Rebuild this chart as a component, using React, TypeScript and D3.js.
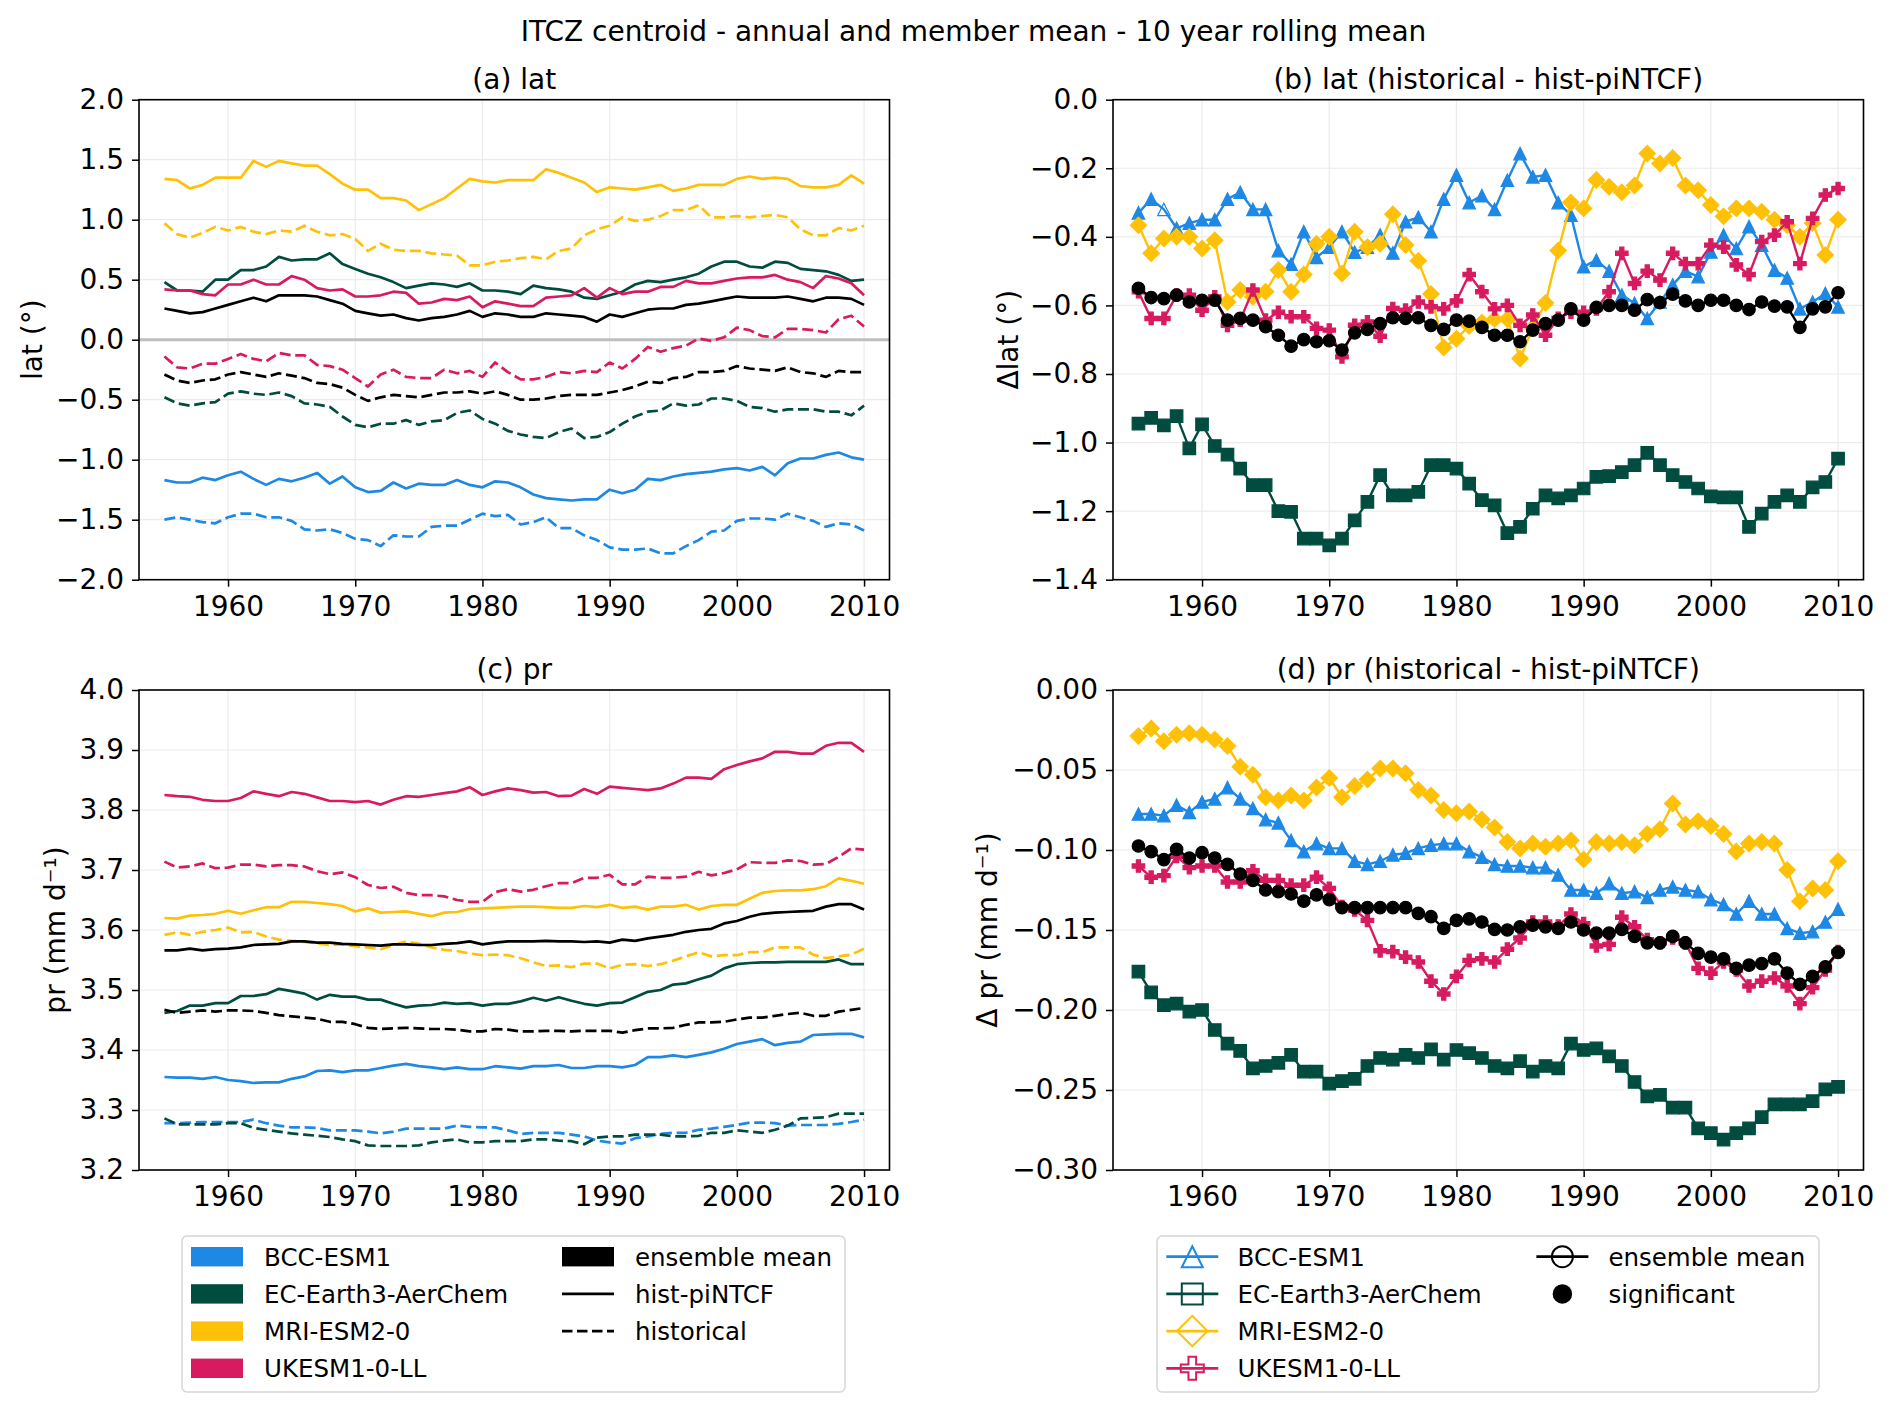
import React, { useEffect, useRef } from 'react';
import * as d3 from 'd3';

// x categories
const years = d3.range(1955, 2011);
const xTicks = [1960, 1970, 1980, 1990, 2000, 2010];

const models = ['BCC-ESM1', 'EC-Earth3-AerChem', 'MRI-ESM2-0', 'UKESM1-0-LL'];
const modelColors = ['#1E88E5', '#004D40', '#FFC107', '#D81B60'];
const modelMarkers = ['triangle', 'square', 'diamond', 'plus'];

const latTicks = [-2.0, -1.5, -1.0, -0.5, 0.0, 0.5, 1.0, 1.5, 2.0];
const dLatTicks = [-1.4, -1.2, -1.0, -0.8, -0.6, -0.4, -0.2, 0.0];
const prTicks = [3.2, 3.3, 3.4, 3.5, 3.6, 3.7, 3.8, 3.9, 4.0];
const dPrTicks = [-0.3, -0.25, -0.2, -0.15, -0.1, -0.05, 0.0];

// (a) lat: hist-piNTCF (solid) and historical (dashed)
const latPiBCC = [
  -1.17, -1.19, -1.19, -1.15, -1.17, -1.13, -1.10, -1.16, -1.21, -1.16,
  -1.18, -1.15, -1.11, -1.20, -1.14, -1.23, -1.27, -1.26, -1.19, -1.24,
  -1.20, -1.21, -1.21, -1.17, -1.21, -1.23, -1.18, -1.19, -1.23, -1.29,
  -1.32, -1.33, -1.34, -1.33, -1.33, -1.25, -1.28, -1.25, -1.16, -1.17,
  -1.14, -1.12, -1.11, -1.10, -1.08, -1.07, -1.09, -1.06, -1.13, -1.03,
  -0.99, -0.99, -0.96, -0.94, -0.98, -1.00];
const latHistBCC = [
  -1.50, -1.48, -1.50, -1.52, -1.53, -1.48, -1.45, -1.45, -1.48, -1.48,
  -1.51, -1.58, -1.59, -1.58, -1.61, -1.66, -1.67, -1.72, -1.63, -1.64,
  -1.64, -1.56, -1.55, -1.55, -1.50, -1.45, -1.47, -1.46, -1.54, -1.52,
  -1.48, -1.57, -1.57, -1.63, -1.67, -1.73, -1.75, -1.75, -1.74, -1.78,
  -1.78, -1.72, -1.67, -1.60, -1.59, -1.51, -1.49, -1.49, -1.50, -1.45,
  -1.48, -1.51, -1.56, -1.53, -1.54, -1.59];
const latPiEC = [
  0.48, 0.41, 0.41, 0.40, 0.50, 0.50, 0.58, 0.58, 0.61, 0.69,
  0.66, 0.67, 0.67, 0.72, 0.63, 0.59, 0.55, 0.52, 0.48, 0.43,
  0.45, 0.47, 0.46, 0.44, 0.47, 0.41, 0.41, 0.40, 0.38, 0.45,
  0.43, 0.42, 0.40, 0.35, 0.34, 0.37, 0.40, 0.46, 0.49, 0.48,
  0.50, 0.52, 0.55, 0.61, 0.65, 0.65, 0.61, 0.60, 0.65, 0.64,
  0.59, 0.58, 0.57, 0.54, 0.49, 0.50];
const latHistEC = [
  -0.48, -0.53, -0.55, -0.53, -0.52, -0.45, -0.43, -0.45, -0.46, -0.44,
  -0.47, -0.53, -0.54, -0.56, -0.64, -0.71, -0.73, -0.70, -0.70, -0.67,
  -0.71, -0.68, -0.67, -0.61, -0.59, -0.66, -0.70, -0.76, -0.79, -0.81,
  -0.82, -0.77, -0.74, -0.82, -0.81, -0.77, -0.70, -0.64, -0.60, -0.59,
  -0.53, -0.55, -0.54, -0.49, -0.49, -0.51, -0.56, -0.57, -0.60, -0.58,
  -0.58, -0.58, -0.60, -0.60, -0.63, -0.55];
const latPiMRI = [
  1.34, 1.33, 1.26, 1.29, 1.35, 1.35, 1.35, 1.49, 1.44, 1.49,
  1.47, 1.45, 1.45, 1.38, 1.30, 1.25, 1.25, 1.18, 1.18, 1.16,
  1.08, 1.13, 1.18, 1.26, 1.34, 1.32, 1.31, 1.33, 1.33, 1.33,
  1.42, 1.39, 1.35, 1.31, 1.23, 1.27, 1.26, 1.25, 1.27, 1.29,
  1.24, 1.26, 1.29, 1.29, 1.29, 1.34, 1.36, 1.34, 1.35, 1.34,
  1.28, 1.27, 1.27, 1.29, 1.37, 1.30];
const latHistMRI = [
  0.97, 0.88, 0.85, 0.89, 0.94, 0.91, 0.94, 0.90, 0.88, 0.91,
  0.90, 0.95, 0.90, 0.87, 0.88, 0.84, 0.74, 0.80, 0.75, 0.74,
  0.74, 0.72, 0.71, 0.70, 0.62, 0.62, 0.65, 0.66, 0.68, 0.69,
  0.67, 0.74, 0.76, 0.87, 0.92, 0.95, 1.02, 0.99, 1.00, 1.03,
  1.08, 1.08, 1.12, 1.02, 1.02, 1.03, 1.02, 1.03, 1.04, 1.02,
  0.92, 0.87, 0.87, 0.93, 0.91, 0.95];
const latPiUK = [
  0.42, 0.41, 0.41, 0.38, 0.37, 0.46, 0.46, 0.50, 0.46, 0.46,
  0.53, 0.50, 0.43, 0.41, 0.42, 0.36, 0.36, 0.37, 0.40, 0.39,
  0.30, 0.31, 0.34, 0.33, 0.36, 0.27, 0.32, 0.30, 0.28, 0.28,
  0.35, 0.36, 0.37, 0.43, 0.35, 0.43, 0.38, 0.40, 0.40, 0.44,
  0.44, 0.49, 0.47, 0.47, 0.49, 0.51, 0.52, 0.52, 0.54, 0.50,
  0.48, 0.43, 0.53, 0.51, 0.47, 0.37];
const latHistUK = [
  -0.14, -0.23, -0.24, -0.20, -0.20, -0.16, -0.12, -0.16, -0.18, -0.11,
  -0.13, -0.13, -0.21, -0.22, -0.25, -0.32, -0.39, -0.29, -0.25, -0.31,
  -0.32, -0.32, -0.25, -0.28, -0.26, -0.31, -0.19, -0.27, -0.33, -0.33,
  -0.31, -0.27, -0.28, -0.26, -0.27, -0.19, -0.24, -0.16, -0.06, -0.10,
  -0.07, -0.05, 0.01, -0.01, 0.02, 0.10, 0.08, 0.03, 0.02, 0.09,
  0.09, 0.08, 0.06, 0.17, 0.20, 0.11];
const latPiEns = [
  0.26, 0.24, 0.22, 0.23, 0.26, 0.29, 0.32, 0.35, 0.32, 0.37,
  0.37, 0.37, 0.36, 0.33, 0.30, 0.24, 0.22, 0.20, 0.21, 0.18,
  0.16, 0.18, 0.19, 0.21, 0.24, 0.19, 0.22, 0.21, 0.19, 0.19,
  0.22, 0.21, 0.20, 0.19, 0.15, 0.21, 0.19, 0.22, 0.25, 0.26,
  0.26, 0.29, 0.30, 0.32, 0.34, 0.36, 0.35, 0.35, 0.35, 0.36,
  0.34, 0.32, 0.35, 0.35, 0.34, 0.29];
const latHistEns = [
  -0.29, -0.34, -0.36, -0.34, -0.33, -0.29, -0.27, -0.29, -0.31, -0.28,
  -0.30, -0.32, -0.36, -0.37, -0.40, -0.46, -0.51, -0.48, -0.46, -0.47,
  -0.48, -0.46, -0.44, -0.44, -0.43, -0.45, -0.43, -0.46, -0.50, -0.50,
  -0.49, -0.47, -0.46, -0.46, -0.46, -0.44, -0.42, -0.39, -0.35, -0.36,
  -0.32, -0.31, -0.27, -0.27, -0.26, -0.22, -0.24, -0.25, -0.26, -0.23,
  -0.27, -0.28, -0.31, -0.26, -0.27, -0.27];

// (b) lat difference (historical - hist-piNTCF)
const dLatBCC = [
  -0.33, -0.29, -0.32, -0.375, -0.36, -0.35, -0.35, -0.29, -0.27, -0.32,
  -0.32, -0.44, -0.48, -0.385, -0.46, -0.43, -0.385, -0.445, -0.43, -0.395,
  -0.447, -0.356, -0.343, -0.385, -0.29, -0.22, -0.30, -0.28, -0.32, -0.235,
  -0.157, -0.225, -0.22, -0.30, -0.337, -0.487, -0.468, -0.50, -0.57, -0.594,
  -0.638, -0.59, -0.54, -0.50, -0.516, -0.444, -0.395, -0.434, -0.37, -0.424,
  -0.497, -0.52, -0.61, -0.59, -0.565, -0.604];
const dLatEC = [
  -0.945, -0.928, -0.95, -0.923, -1.017, -0.947, -1.01, -1.035, -1.076, -1.124,
  -1.124, -1.20, -1.202, -1.28, -1.28, -1.30, -1.28, -1.227, -1.173, -1.095,
  -1.154, -1.154, -1.144, -1.066, -1.066, -1.076, -1.12, -1.168, -1.183, -1.264,
  -1.246, -1.193, -1.154, -1.163, -1.154, -1.134, -1.10, -1.098, -1.086, -1.066,
  -1.03, -1.066, -1.095, -1.115, -1.134, -1.157, -1.16, -1.16, -1.246, -1.207,
  -1.173, -1.154, -1.173, -1.131, -1.115, -1.047];
const dLatMRI = [
  -0.366, -0.448, -0.405, -0.40, -0.40, -0.434, -0.41, -0.59, -0.555, -0.575,
  -0.56, -0.497, -0.56, -0.51, -0.42, -0.40, -0.507, -0.385, -0.43, -0.42,
  -0.334, -0.424, -0.47, -0.567, -0.723, -0.697, -0.66, -0.65, -0.64, -0.64,
  -0.755, -0.665, -0.593, -0.44, -0.30, -0.317, -0.234, -0.254, -0.27, -0.25,
  -0.157, -0.186, -0.17, -0.25, -0.264, -0.307, -0.34, -0.317, -0.317, -0.327,
  -0.35, -0.366, -0.40, -0.36, -0.453, -0.35];
const dLatUK = [
  -0.56, -0.638, -0.638, -0.57, -0.57, -0.614, -0.575, -0.658, -0.643, -0.555,
  -0.643, -0.62, -0.633, -0.633, -0.667, -0.672, -0.75, -0.658, -0.648, -0.69,
  -0.609, -0.614, -0.59, -0.604, -0.61, -0.587, -0.51, -0.56, -0.61, -0.60,
  -0.658, -0.628, -0.687, -0.638, -0.62, -0.62, -0.61, -0.56, -0.448, -0.536,
  -0.50, -0.526, -0.448, -0.478, -0.478, -0.424, -0.43, -0.482, -0.51, -0.414,
  -0.395, -0.356, -0.478, -0.346, -0.278, -0.259];
const dLatEns = [
  -0.55, -0.577, -0.58, -0.57, -0.59, -0.585, -0.585, -0.643, -0.638, -0.643,
  -0.662, -0.687, -0.719, -0.70, -0.706, -0.703, -0.73, -0.68, -0.67, -0.653,
  -0.636, -0.638, -0.636, -0.658, -0.67, -0.643, -0.646, -0.664, -0.687, -0.687,
  -0.706, -0.672, -0.653, -0.643, -0.61, -0.643, -0.606, -0.60, -0.60, -0.614,
  -0.583, -0.592, -0.567, -0.587, -0.60, -0.585, -0.585, -0.60, -0.612, -0.59,
  -0.602, -0.604, -0.664, -0.61, -0.604, -0.563];
// points drawn hollow (not significant): [model index, year]
const dLatNotSignificant = [[0, 1957]];

// (c) pr: hist-piNTCF (solid) and historical (dashed)
const prPiBCC = [
  3.355, 3.354, 3.354, 3.352, 3.355, 3.35, 3.348, 3.345, 3.346, 3.346,
  3.352, 3.356, 3.365, 3.366, 3.363, 3.366, 3.366, 3.37, 3.374, 3.377,
  3.373, 3.371, 3.368, 3.371, 3.368, 3.368, 3.373, 3.371, 3.369, 3.373,
  3.373, 3.375, 3.37, 3.37, 3.373, 3.373, 3.371, 3.375, 3.388, 3.388,
  3.391, 3.388, 3.392, 3.396, 3.402, 3.41, 3.414, 3.418, 3.408, 3.412,
  3.414, 3.425, 3.426, 3.427, 3.427, 3.421];
const prHistBCC = [
  3.278, 3.278, 3.279, 3.28, 3.28, 3.28, 3.28, 3.284, 3.278, 3.274,
  3.271, 3.271, 3.27, 3.266, 3.266, 3.266, 3.264, 3.261, 3.264, 3.269,
  3.269, 3.269, 3.269, 3.274, 3.272, 3.271, 3.271, 3.266, 3.26, 3.262,
  3.262, 3.262, 3.259, 3.256, 3.249, 3.246, 3.244, 3.253, 3.256, 3.26,
  3.262, 3.262, 3.267, 3.269, 3.272, 3.275, 3.279, 3.279, 3.278, 3.274,
  3.275, 3.275, 3.275, 3.277, 3.28, 3.284];
const prPiEC = [
  3.462, 3.465, 3.474, 3.474, 3.478, 3.478, 3.49, 3.49, 3.493, 3.502,
  3.498, 3.494, 3.484, 3.492, 3.489, 3.489, 3.484, 3.484, 3.477, 3.471,
  3.474, 3.475, 3.479, 3.477, 3.478, 3.474, 3.477, 3.477, 3.481, 3.487,
  3.482, 3.488, 3.482, 3.477, 3.474, 3.478, 3.479, 3.488, 3.497, 3.50,
  3.509, 3.511, 3.518, 3.524, 3.536, 3.543, 3.545, 3.546, 3.546, 3.547,
  3.547, 3.547, 3.547, 3.551, 3.543, 3.543];
const prHistEC = [
  3.286, 3.276, 3.276, 3.276, 3.276, 3.278, 3.278, 3.27, 3.267, 3.264,
  3.261, 3.259, 3.257, 3.255, 3.251, 3.248, 3.241, 3.24, 3.24, 3.24,
  3.241, 3.246, 3.249, 3.251, 3.246, 3.246, 3.248, 3.248, 3.248, 3.251,
  3.251, 3.249, 3.248, 3.243, 3.254, 3.256, 3.256, 3.259, 3.259, 3.259,
  3.256, 3.256, 3.257, 3.262, 3.262, 3.266, 3.264, 3.262, 3.267, 3.274,
  3.286, 3.287, 3.288, 3.294, 3.294, 3.294];
const prPiMRI = [
  3.62, 3.619, 3.624, 3.625, 3.627, 3.632, 3.627, 3.633, 3.638, 3.638,
  3.647, 3.647, 3.645, 3.643, 3.64, 3.631, 3.636, 3.629, 3.63, 3.631,
  3.627, 3.623, 3.629, 3.63, 3.635, 3.636, 3.637, 3.638, 3.639, 3.639,
  3.638, 3.637, 3.637, 3.64, 3.638, 3.642, 3.637, 3.639, 3.634, 3.639,
  3.639, 3.642, 3.634, 3.64, 3.642, 3.642, 3.652, 3.662, 3.665, 3.666,
  3.666, 3.668, 3.673, 3.686, 3.682, 3.677];
const prHistMRI = [
  3.592, 3.596, 3.592, 3.597, 3.60, 3.604, 3.596, 3.597, 3.589, 3.584,
  3.582, 3.58, 3.578, 3.575, 3.576, 3.573, 3.571, 3.568, 3.575, 3.581,
  3.577, 3.571, 3.567, 3.565, 3.561, 3.558, 3.559, 3.558, 3.553, 3.546,
  3.54, 3.541, 3.538, 3.544, 3.544, 3.536, 3.542, 3.543, 3.54, 3.543,
  3.549, 3.556, 3.563, 3.556, 3.558, 3.558, 3.563, 3.563, 3.571, 3.571,
  3.571, 3.559, 3.553, 3.556, 3.559, 3.569];
const prPiUK = [
  3.825, 3.823, 3.822, 3.817, 3.815, 3.815, 3.82, 3.831, 3.827, 3.823,
  3.83, 3.827, 3.821, 3.815, 3.815, 3.813, 3.815, 3.809, 3.817, 3.823,
  3.822, 3.825, 3.828, 3.831, 3.838, 3.825, 3.831, 3.836, 3.833, 3.829,
  3.83, 3.823, 3.824, 3.835, 3.827, 3.839, 3.837, 3.835, 3.833, 3.836,
  3.844, 3.854, 3.854, 3.852, 3.868, 3.875, 3.881, 3.886, 3.897, 3.897,
  3.894, 3.894, 3.907, 3.912, 3.912, 3.897];
const prHistUK = [
  3.714, 3.704, 3.706, 3.711, 3.703, 3.704, 3.709, 3.709, 3.706, 3.708,
  3.708, 3.706, 3.698, 3.693, 3.696, 3.688, 3.675, 3.670, 3.672, 3.662,
  3.658, 3.658, 3.656, 3.65, 3.647, 3.647, 3.663, 3.668, 3.664, 3.667,
  3.673, 3.678, 3.678, 3.687, 3.687, 3.692, 3.676, 3.676, 3.689, 3.687,
  3.687, 3.689, 3.697, 3.691, 3.695, 3.701, 3.713, 3.712, 3.712, 3.716,
  3.715, 3.709, 3.71, 3.722, 3.736, 3.734];
const prPiEns = [
  3.566, 3.566, 3.569, 3.566, 3.568, 3.569, 3.571, 3.575, 3.576, 3.577,
  3.581, 3.581, 3.579, 3.579, 3.577, 3.576, 3.575, 3.574, 3.576, 3.576,
  3.575, 3.575, 3.577, 3.578, 3.581, 3.576, 3.579, 3.581, 3.581, 3.581,
  3.582, 3.581, 3.581, 3.58, 3.581, 3.579, 3.584, 3.582, 3.586, 3.589,
  3.592, 3.597, 3.60, 3.602, 3.611, 3.615, 3.622, 3.627, 3.629, 3.63,
  3.631, 3.632, 3.639, 3.643, 3.643, 3.634];
const prHistEns = [
  3.467, 3.462, 3.464, 3.466, 3.464, 3.466, 3.466, 3.465, 3.462, 3.458,
  3.456, 3.454, 3.452, 3.447, 3.447, 3.443, 3.437, 3.435, 3.436, 3.437,
  3.436, 3.435, 3.435, 3.434, 3.431, 3.431, 3.435, 3.434, 3.431, 3.431,
  3.432, 3.432, 3.431, 3.432, 3.432, 3.432, 3.429, 3.433, 3.436, 3.436,
  3.437, 3.442, 3.446, 3.446, 3.447, 3.451, 3.454, 3.454, 3.457, 3.46,
  3.462, 3.457, 3.457, 3.464, 3.467, 3.47];

// (d) pr difference (historical - hist-piNTCF)
const dPrBCC = [
  -0.0775, -0.0775, -0.0785, -0.072, -0.0765, -0.070, -0.068, -0.061, -0.068, -0.074,
  -0.081, -0.083, -0.094, -0.101, -0.096, -0.099, -0.099, -0.107, -0.109, -0.107,
  -0.103, -0.102, -0.099, -0.097, -0.096, -0.096, -0.101, -0.1045, -0.109, -0.11,
  -0.11, -0.111, -0.111, -0.1156, -0.125, -0.125, -0.127, -0.121, -0.127, -0.126,
  -0.1296, -0.125, -0.123, -0.125, -0.126, -0.131, -0.134, -0.14, -0.132, -0.14,
  -0.14, -0.149, -0.152, -0.151, -0.145, -0.137];
const dPrEC = [
  -0.176, -0.189, -0.197, -0.196, -0.201, -0.200, -0.2125, -0.221, -0.2256, -0.2365,
  -0.235, -0.233, -0.228, -0.2385, -0.2385, -0.246, -0.2444, -0.243, -0.235, -0.23,
  -0.231, -0.228, -0.23, -0.2246, -0.231, -0.225, -0.227, -0.230, -0.235, -0.2365,
  -0.232, -0.2385, -0.235, -0.2365, -0.221, -0.225, -0.224, -0.229, -0.235, -0.245,
  -0.254, -0.253, -0.261, -0.261, -0.274, -0.277, -0.281, -0.277, -0.274, -0.267,
  -0.259, -0.259, -0.259, -0.257, -0.2496, -0.248];
const dPrMRI = [
  -0.0288, -0.024, -0.032, -0.028, -0.027, -0.028, -0.031, -0.035, -0.048, -0.053,
  -0.067, -0.069, -0.066, -0.069, -0.061, -0.055, -0.067, -0.060, -0.056, -0.049,
  -0.049, -0.052, -0.0625, -0.066, -0.075, -0.077, -0.076, -0.081, -0.086, -0.095,
  -0.099, -0.096, -0.098, -0.096, -0.094, -0.106, -0.095, -0.096, -0.095, -0.097,
  -0.090, -0.087, -0.071, -0.084, -0.082, -0.085, -0.090, -0.101, -0.096, -0.095,
  -0.096, -0.1125, -0.132, -0.124, -0.125, -0.107];
const dPrUK = [
  -0.110, -0.117, -0.116, -0.104, -0.111, -0.110, -0.110, -0.12, -0.12, -0.113,
  -0.119, -0.119, -0.122, -0.122, -0.117, -0.124, -0.1354, -0.1375, -0.144, -0.163,
  -0.1635, -0.167, -0.17, -0.182, -0.19, -0.179, -0.169, -0.168, -0.17, -0.162,
  -0.155, -0.145, -0.145, -0.1475, -0.14, -0.146, -0.16, -0.159, -0.142, -0.148,
  -0.156, -0.158, -0.155, -0.158, -0.174, -0.177, -0.17, -0.175, -0.185, -0.182,
  -0.180, -0.185, -0.196, -0.186, -0.175, -0.1635];
const dPrEns = [
  -0.0975, -0.101, -0.106, -0.0996, -0.105, -0.1017, -0.105, -0.109, -0.115, -0.119,
  -0.125, -0.126, -0.1275, -0.132, -0.128, -0.131, -0.136, -0.136, -0.136, -0.136,
  -0.136, -0.136, -0.1396, -0.1417, -0.149, -0.144, -0.143, -0.145, -0.1496, -0.150,
  -0.148, -0.147, -0.148, -0.149, -0.145, -0.150, -0.152, -0.152, -0.1496, -0.154,
  -0.158, -0.158, -0.154, -0.158, -0.1646, -0.167, -0.168, -0.174, -0.172, -0.171,
  -0.168, -0.177, -0.184, -0.179, -0.173, -0.164];

const W = 1892;
const H = 1412;
const FONT = 'DejaVu Sans';
const PW = 750.5;
const PH = 480;

function markerPath(shape: string, s: number): string {
  const h = s / 2;
  if (shape === 'triangle') return `M0,${-h}L${h},${h}L${-h},${h}Z`;
  if (shape === 'square') return `M${-h},${-h}H${h}V${h}H${-h}Z`;
  if (shape === 'diamond') {
    const d = h * Math.SQRT2;
    return `M0,${-d}L${d},0L0,${d}L${-d},0Z`;
  }
  if (shape === 'plus') {
    const a = s / 6;
    return `M${-a},${-h}H${a}V${-a}H${h}V${a}H${a}V${h}H${-a}V${a}H${-h}V${-a}H${-a}Z`;
  }
  return `M${h},0A${h},${h} 0 1,1 ${-h},0A${h},${h} 0 1,1 ${h},0Z`;
}

const App = () => {
  const svgRef = useRef(null);

  useEffect(() => {
    if (!svgRef.current) return;
    document.body.style.margin = '0';
    const svg = d3.select(svgRef.current);
    svg.selectAll('*').remove();

    svg.append('rect').attr('width', W).attr('height', H).attr('fill', '#fff');

    svg.append('text')
      .attr('x', 973.5).attr('y', 41)
      .attr('text-anchor', 'middle')
      .attr('font-family', FONT).attr('font-size', 28)
      .text('ITCZ centroid - annual and member mean - 10 year rolling mean');

    // sets up one panel: grid, titles; returns scales and a finish() that draws spines/axes on top
    const panel = (left, top, domain, ticks, fmt, title, ylabel, ylabelX) => {
      const x = d3.scaleLinear().domain([1953, 2012]).range([left, left + PW]);
      const y = d3.scaleLinear().domain(domain).range([top + PH, top]);
      const g = svg.append('g');

      g.append('g').selectAll('line').data(xTicks).join('line')
        .attr('x1', d => x(d)).attr('x2', d => x(d))
        .attr('y1', top).attr('y2', top + PH)
        .attr('stroke', '#ebebeb').attr('stroke-width', 1.2);
      g.append('g').selectAll('line').data(ticks).join('line')
        .attr('x1', left).attr('x2', left + PW)
        .attr('y1', d => y(d)).attr('y2', d => y(d))
        .attr('stroke', '#ebebeb').attr('stroke-width', 1.2);

      g.append('text')
        .attr('x', left + PW / 2).attr('y', top - 10.7)
        .attr('text-anchor', 'middle')
        .attr('font-family', FONT).attr('font-size', 28)
        .text(title);

      g.append('text')
        .attr('transform', `translate(${ylabelX},${top + PH / 2}) rotate(-90)`)
        .attr('text-anchor', 'middle')
        .attr('font-family', FONT).attr('font-size', 28)
        .text(ylabel);

      const finish = () => {
        g.append('rect')
          .attr('x', left).attr('y', top).attr('width', PW).attr('height', PH)
          .attr('fill', 'none').attr('stroke', '#000').attr('stroke-width', 1.6);

        const ax = g.append('g')
          .attr('transform', `translate(0,${top + PH})`)
          .call(d3.axisBottom(x).tickValues(xTicks).tickFormat(d3.format('d'))
            .tickSize(7).tickPadding(9.5));
        const ay = g.append('g')
          .attr('transform', `translate(${left},0)`)
          .call(d3.axisLeft(y).tickValues(ticks).tickFormat(d3.format(fmt))
            .tickSize(7).tickPadding(8));
        [ax, ay].forEach(a => {
          a.select('.domain').remove();
          a.attr('font-family', FONT).attr('font-size', 28);
          a.selectAll('text').attr('fill', '#000');
          a.selectAll('line').attr('stroke', '#000').attr('stroke-width', 1.5);
        });
      };
      return { g, x, y, finish };
    };

    // ---------- (a) and (c): solid / dashed lines ----------
    const drawLines = (p, series, lw) => {
      const line = d3.line<number>().x((_, i) => p.x(years[i])).y(d => p.y(d));
      series.forEach(([values, color, dashed]) => {
        p.g.append('path')
          .attr('d', line(values))
          .attr('fill', 'none')
          .attr('stroke', color)
          .attr('stroke-width', lw)
          .attr('stroke-linejoin', 'round')
          .attr('stroke-dasharray', dashed ? '11,4.7' : null);
      });
    };

    const pa = panel(139, 99.7, [-2, 2], latTicks, '.1f', '(a) lat', 'lat (°)', 41.5);
    pa.g.append('line')
      .attr('x1', 139).attr('x2', 139 + PW)
      .attr('y1', pa.y(0)).attr('y2', pa.y(0))
      .attr('stroke', '#bfbfbf').attr('stroke-width', 3);
    drawLines(pa, [
      [latPiBCC, modelColors[0], false], [latHistBCC, modelColors[0], true],
      [latPiEC, modelColors[1], false], [latHistEC, modelColors[1], true],
      [latPiMRI, modelColors[2], false], [latHistMRI, modelColors[2], true],
      [latPiUK, modelColors[3], false], [latHistUK, modelColors[3], true],
      [latPiEns, '#000', false], [latHistEns, '#000', true],
    ], 2.7);
    pa.finish();

    const pc = panel(139, 690, [3.2, 4.0], prTicks, '.1f', '(c) pr', 'pr (mm d⁻¹)', 65);
    drawLines(pc, [
      [prPiBCC, modelColors[0], false], [prHistBCC, modelColors[0], true],
      [prPiEC, modelColors[1], false], [prHistEC, modelColors[1], true],
      [prPiMRI, modelColors[2], false], [prHistMRI, modelColors[2], true],
      [prPiUK, modelColors[3], false], [prHistUK, modelColors[3], true],
      [prPiEns, '#000', false], [prHistEns, '#000', true],
    ], 2.7);
    pc.finish();

    // ---------- (b) and (d): lines with markers ----------
    const drawMarked = (p, series, notSig) => {
      const line = d3.line<number>().x((_, i) => p.x(years[i])).y(d => p.y(d));
      series.forEach(([values, color, shape, idx]) => {
        p.g.append('path')
          .attr('d', line(values))
          .attr('fill', 'none')
          .attr('stroke', color)
          .attr('stroke-width', 2.4)
          .attr('stroke-linejoin', 'round');
        const size = shape === 'diamond' ? 11.5 : shape === 'circle' ? 12.5 : 12.5;
        p.g.append('g').selectAll('path').data(values).join('path')
          .attr('transform', (d, i) => `translate(${p.x(years[i])},${p.y(d)})`)
          .attr('d', markerPath(shape, size))
          .attr('fill', (d, i) => notSig.some(([m, yr]) => m === idx && yr === years[i]) ? 'none' : color)
          .attr('stroke', color)
          .attr('stroke-width', 1.2);
      });
    };

    const pb = panel(1113, 99.7, [-1.4, 0], dLatTicks, '.1f',
      '(b) lat (historical - hist-piNTCF)', 'Δlat (°)', 1017.7);
    drawMarked(pb, [
      [dLatBCC, modelColors[0], modelMarkers[0], 0],
      [dLatEC, modelColors[1], modelMarkers[1], 1],
      [dLatMRI, modelColors[2], modelMarkers[2], 2],
      [dLatUK, modelColors[3], modelMarkers[3], 3],
      [dLatEns, '#000', 'circle', 4],
    ], dLatNotSignificant);
    pb.finish();

    const pd = panel(1113, 690, [-0.3, 0], dPrTicks, '.2f',
      '(d) pr (historical - hist-piNTCF)', 'Δ pr (mm d⁻¹)', 997);
    drawMarked(pd, [
      [dPrBCC, modelColors[0], modelMarkers[0], 0],
      [dPrEC, modelColors[1], modelMarkers[1], 1],
      [dPrMRI, modelColors[2], modelMarkers[2], 2],
      [dPrUK, modelColors[3], modelMarkers[3], 3],
      [dPrEns, '#000', 'circle', 4],
    ], []);
    pd.finish();

    // ---------- legends ----------
    const rowY = [1256.7, 1293.9, 1331.1, 1368.3];
    const legendBox = (x0, x1) => svg.append('rect')
      .attr('x', x0).attr('y', 1236).attr('width', x1 - x0).attr('height', 156)
      .attr('rx', 5).attr('fill', '#fff').attr('stroke', '#d6d6d6').attr('stroke-width', 1.5);
    const legendText = (x, yc, t) => svg.append('text')
      .attr('x', x).attr('y', yc + 8.8)
      .attr('font-family', FONT).attr('font-size', 24.5)
      .text(t);

    // left legend
    legendBox(182, 845);
    models.forEach((m, i) => {
      svg.append('rect').attr('x', 191).attr('y', rowY[i] - 9.7)
        .attr('width', 52).attr('height', 19.4).attr('fill', modelColors[i]);
      legendText(264, rowY[i], m);
    });
    svg.append('rect').attr('x', 562).attr('y', rowY[0] - 9.7)
      .attr('width', 52).attr('height', 19.4).attr('fill', '#000');
    legendText(635, rowY[0], 'ensemble mean');
    svg.append('line').attr('x1', 562).attr('x2', 614).attr('y1', rowY[1]).attr('y2', rowY[1])
      .attr('stroke', '#000').attr('stroke-width', 2.7);
    legendText(635, rowY[1], 'hist-piNTCF');
    svg.append('line').attr('x1', 562).attr('x2', 614).attr('y1', rowY[2]).attr('y2', rowY[2])
      .attr('stroke', '#000').attr('stroke-width', 2.7).attr('stroke-dasharray', '10.5,4.5');
    legendText(635, rowY[2], 'historical');

    // right legend
    legendBox(1157, 1819);
    const legendSizes = { triangle: 21, square: 21, diamond: 21.5, plus: 23, circle: 21 };
    const handle = (cx, yc, color, shape) => {
      svg.append('line').attr('x1', cx - 26).attr('x2', cx + 26).attr('y1', yc).attr('y2', yc)
        .attr('stroke', color).attr('stroke-width', 2.7);
      svg.append('path').attr('transform', `translate(${cx},${yc})`)
        .attr('d', markerPath(shape, legendSizes[shape]))
        .attr('fill', 'none').attr('stroke', color).attr('stroke-width', 2);
    };
    models.forEach((m, i) => {
      handle(1192.3, rowY[i], modelColors[i], modelMarkers[i]);
      legendText(1237.6, rowY[i], m);
    });
    handle(1562.4, rowY[0], '#000', 'circle');
    legendText(1608.4, rowY[0], 'ensemble mean');
    svg.append('path').attr('transform', `translate(1562.4,${rowY[1]})`)
      .attr('d', markerPath('circle', 19.5)).attr('fill', '#000');
    legendText(1608.4, rowY[1], 'significant');
  }, []);

  return (
    <svg
      ref={svgRef}
      width={W}
      height={H}
      style={{ position: 'absolute', left: 0, top: 0, display: 'block' }}
    />
  );
};

export default App;
